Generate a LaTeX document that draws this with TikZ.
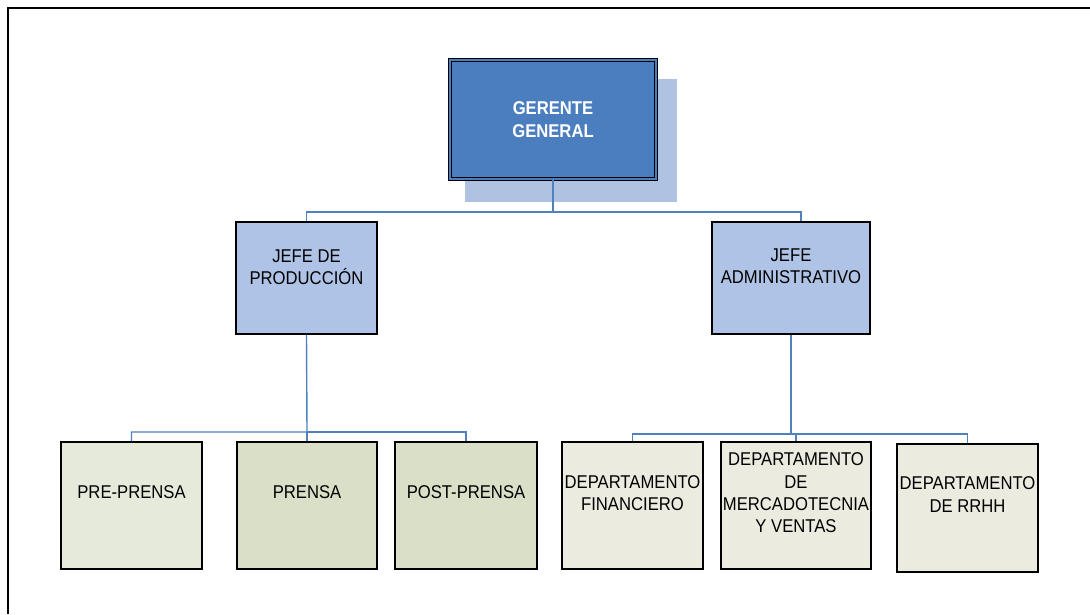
\documentclass[tikz,border=0pt]{standalone}
\usepackage{fontspec}
\setmainfont{Liberation Sans}[FakeStretch=0.9]
\usetikzlibrary{calc}

\definecolor{gerblue}{HTML}{4A7EBF}
\definecolor{shadeblue}{HTML}{AFC2E2}
\definecolor{jefeblue}{HTML}{AEC3E5}
\definecolor{linkblue}{HTML}{4F81BD}
\definecolor{prefill}{HTML}{E6EADB}
\definecolor{pressfill}{HTML}{DADFC7}
\definecolor{deptfill}{HTML}{EBEBE0}

\begin{document}
\begin{tikzpicture}[x=1pt,y=-1pt,
  unitbox/.style={draw=black, line width=1.1pt, inner sep=0pt, minimum height=#1},
  unitbox/.default=112pt,
  lbl/.style={font=\fontsize{18.5}{22.4}\selectfont, align=center, inner sep=0pt},
  link/.style={draw=linkblue, line width=1.4pt}
]
\useasboundingbox (0,0) rectangle (1090,614);

% page frame (top and left edges)
\draw[line width=1.6pt] (8,614) -- (8,8) -- (1090,8);

% connectors
\coordinate (busA) at (553,212);
\coordinate (busB) at (307,432);
\coordinate (busC) at (791,434);

% top level
\node[fill=shadeblue, inner sep=0pt, minimum width=212pt, minimum height=123pt] (ggshadow) at (571,140.5) {};
\node[draw=black, line width=1.2pt, double=gerblue, double distance=2.4pt, fill=gerblue,
      inner sep=0pt, minimum width=206pt, minimum height=119pt] (gg) at (553,119.5) {};
\node[lbl, text=white, font=\bfseries\fontsize{18.5}{22.4}\selectfont] (ggt) at (gg.center) {GERENTE\\GENERAL};

% second level
\node[unitbox, fill=jefeblue, minimum width=141pt] (jp) at (306.5,278) {};
\node[unitbox, fill=jefeblue, minimum width=158pt] (ja) at (791,278) {};
\node[lbl] (jpt) at ([yshift=11pt]jp.center) {JEFE DE\\PRODUCCIÓN};
\node[lbl] (jat) at ([yshift=11.5pt]ja.center) {JEFE\\ADMINISTRATIVO};

% third level, production
\node[unitbox=127pt, fill=prefill, minimum width=141pt] (pre) at (131.5,505.5) {};
\node[unitbox=127pt, fill=pressfill, minimum width=140pt] (prensa) at (307,505.5) {};
\node[unitbox=127pt, fill=pressfill, minimum width=142pt] (post) at (466,505.5) {};
\node[lbl] (pret) at ([yshift=13pt]pre.center) {PRE-PRENSA};
\node[lbl] (prensat) at ([yshift=13pt]prensa.center) {PRENSA};
\node[lbl] (postt) at ([yshift=13pt]post.center) {POST-PRENSA};

% third level, administration
\node[unitbox=127pt, fill=deptfill, minimum width=141pt] (fin) at (632.5,505.5) {};
\node[unitbox=127pt, fill=deptfill, minimum width=150pt] (mer) at (796,505.5) {};
\node[unitbox=128pt, fill=deptfill, minimum width=141pt] (rrhh) at (967.5,508) {};
\node[lbl] (fint) at ([yshift=12.5pt]fin.center) {DEPARTAMENTO\\FINANCIERO};
\node[lbl] (mert) at ([yshift=12.5pt]mer.center) {DEPARTAMENTO\\DE\\MERCADOTECNIA\\Y VENTAS};
\node[lbl] (rrhht) at ([yshift=13.5pt]rrhh.center) {DEPARTAMENTO\\DE RRHH};

% lines between units
\draw[link] (gg.south) -- (busA) -| (jp.north);
\draw[link] (busA) -| ([xshift=10pt]ja.north);
\draw[link] (jp.south) -- (busB) -| (pre.north);
\draw[link] (busB) -| (post.north);
\draw[link] (busB) -- (prensa.north);
\draw[link] (ja.south) -- (busC) -| (fin.north);
\draw[link] (busC) -| (rrhh.north);
\draw[link] (busC) -| (mer.north);
\end{tikzpicture}
\end{document}
